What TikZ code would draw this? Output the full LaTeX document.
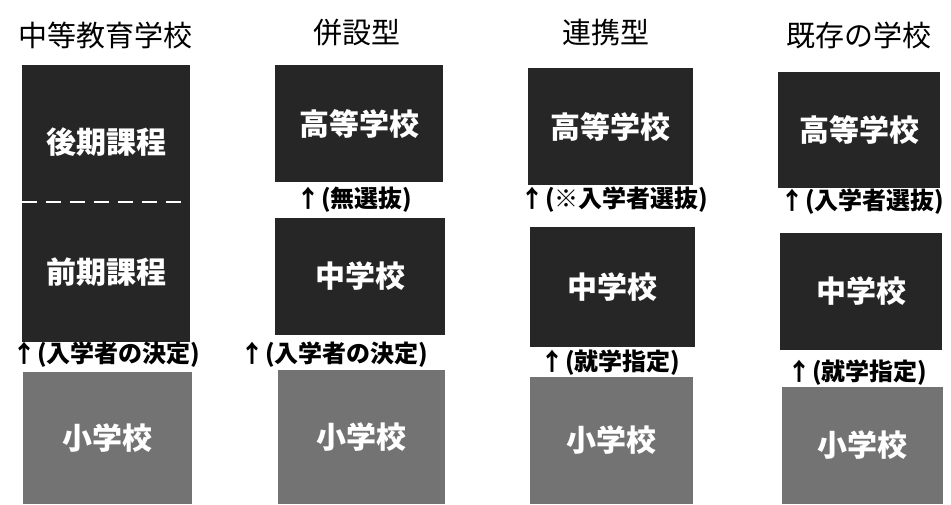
\documentclass[tikz,border=0pt]{standalone}
\usepackage{fontspec}
\setmainfont{Noto Sans CJK JP}
\newcommand{\uparr}{\makebox[0.55em]{↑}\hspace{0.25em}}
\begin{document}
\begin{tikzpicture}[x=1pt,y=-1pt,
  darkbox/.style={fill=black!85, draw=none, inner sep=0pt},
  lightbox/.style={fill=black!55, draw=none, inner sep=0pt},
  boxtext/.style={text=white, font=\fontsize{30}{32}\selectfont\bfseries, inner sep=0pt},
  title/.style={font=\fontsize{29}{32}\selectfont, inner sep=0pt},
  lab/.style={font=\fontsize{24}{27}\selectfont\bfseries, inner sep=0pt}]
\useasboundingbox (0,0) rectangle (951,504);
\fill[white] (0,0) rectangle (951,504);
% column 1
\node[title] (t1) at (105.5,35) {中等教育学校};
\node[darkbox, minimum width=168pt, minimum height=277pt] (c1big) at (106,203.5) {};
\draw[white, line width=2pt, dash pattern=on 15pt off 9pt] (c1big.west |- 0,202) coordinate (d1a) -- (c1big.east |- 0,202) coordinate (d1b);
\node[boxtext] (c1up) at (106,142) {後期課程};
\node[boxtext] (c1lo) at (106,272) {前期課程};
\node[lab] (l1) at (109,355) {\uparr(入学者の決定)};
\node[lightbox, minimum width=169pt, minimum height=132pt] (c1e) at (107.5,438) {};
\node[boxtext] at (c1e.center) {小学校};
% column 2
\node[title] (t2) at (357,33) {併設型};
\node[darkbox, minimum width=168pt, minimum height=117pt] (c2h) at (359,123.5) {};
\node[boxtext] at (c2h.center) {高等学校};
\node[lab] (l2a) at (357,200) {\uparr(無選抜)};
\node[darkbox, minimum width=170pt, minimum height=117pt] (c2m) at (360,276.5) {};
\node[boxtext] at (c2m.center) {中学校};
\node[lab] (l2b) at (337,355) {\uparr(入学者の決定)};
\node[lightbox, minimum width=167pt, minimum height=134pt] (c2e) at (361.5,437) {};
\node[boxtext] at (c2e.center) {小学校};
% column 3
\node[title] (t3) at (606,33) {連携型};
\node[darkbox, minimum width=165pt, minimum height=117pt] (c3h) at (610.5,126.5) {};
\node[boxtext] at (c3h.center) {高等学校};
\node[lab] (l3a) at (617,200) {\uparr(※入学者選抜)};
\node[darkbox, minimum width=165pt, minimum height=120pt] (c3m) at (612.5,287) {};
\node[boxtext] at (c3m.center) {中学校};
\node[lab] (l3b) at (613,363) {\uparr(就学指定)};
\node[lightbox, minimum width=163pt, minimum height=127pt] (c3e) at (611.5,440.5) {};
\node[boxtext] at (c3e.center) {小学校};
% column 4
\node[title] (t4) at (859,35) {既存の学校};
\node[darkbox, minimum width=162pt, minimum height=116pt] (c4h) at (859,130) {};
\node[boxtext] at (c4h.center) {高等学校};
\node[lab] (l4a) at (865,202) {\uparr(入学者選抜)};
\node[darkbox, minimum width=162pt, minimum height=117pt] (c4m) at (861,291.5) {};
\node[boxtext] at (c4m.center) {中学校};
\node[lab] (l4b) at (860,373) {\uparr(就学指定)};
\node[lightbox, minimum width=161pt, minimum height=117pt] (c4e) at (862.5,445.5) {};
\node[boxtext] at (c4e.center) {小学校};
\end{tikzpicture}
\end{document}
